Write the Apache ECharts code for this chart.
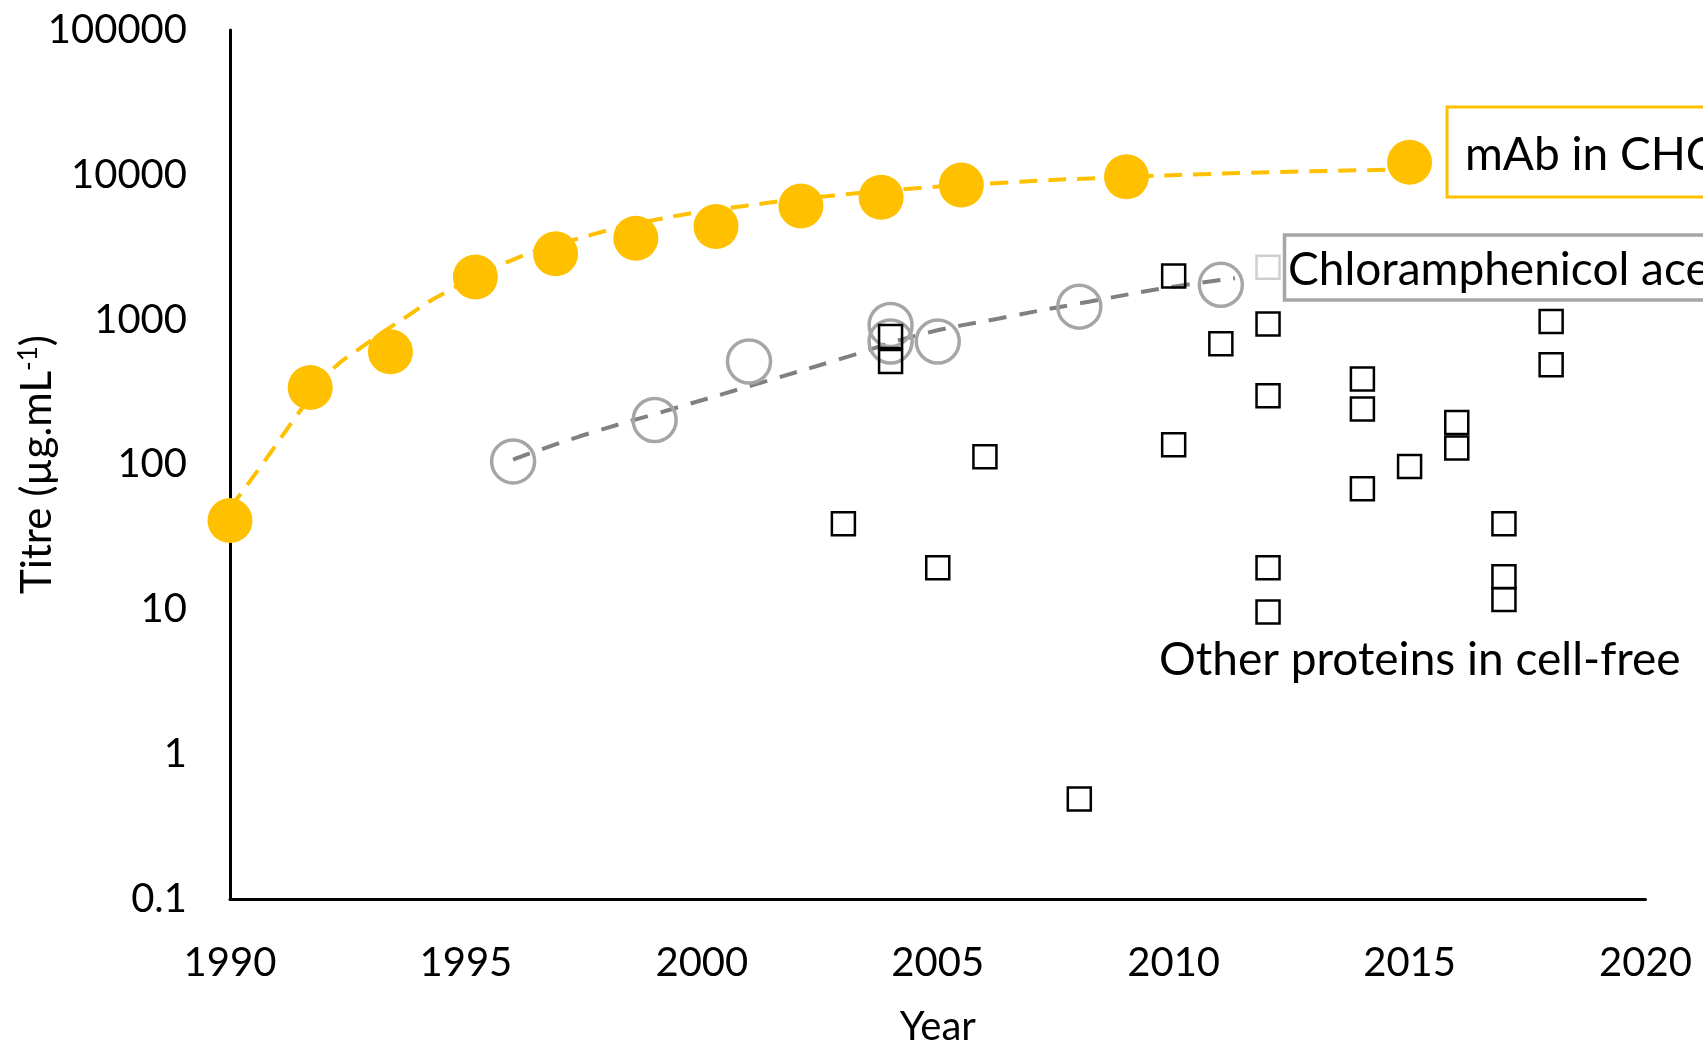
<!DOCTYPE html>
<html>
<head>
<meta charset="utf-8">
<script src="https://cdn.jsdelivr.net/npm/echarts@6/dist/echarts.min.js"></script>
<style>
html,body{margin:0;padding:0;background:#fff;}
#chart{width:1703px;height:1051px;}
</style>
</head>
<body>
<div id="chart"></div>
<script>
// ---- data ----
const yTickLabels = ['0.1', '1', '10', '100', '1000', '10000', '100000'];
const xTickLabels = ['1990', '1995', '2000', '2005', '2010', '2015', '2020'];

// mAb in CHO (filled gold circles)
const mabYears = [1990, 1991.7, 1993.4, 1995.2, 1996.9, 1998.6, 2000.3, 2002.1, 2003.8, 2005.5, 2009, 2015];
const mabTitre = [41, 340, 600, 1970, 2850, 3650, 4400, 6100, 7000, 8500, 9700, 12200];
// gold dashed trend line
const mabTrendYears = [1990, 1990.7, 1991.5, 1992.1, 1992.8, 1993.8, 1994.4, 1995.9, 1997.4, 1999.1, 2000.9, 2002.8, 2004.6, 2006.6, 2008.4, 2011.5, 2015];
const mabTrendTitre = [50, 102, 238, 430, 650, 1080, 1440, 2520, 3650, 4950, 6100, 7200, 8100, 8900, 9500, 10300, 10900];

// Chloramphenicol acetyltransferase (open grey circles)
const catYears = [1996, 1999, 2001, 2004, 2004, 2005, 2008, 2011];
const catTitre = [105, 203, 514, 920, 706, 706, 1230, 1740];
// grey dashed trend line
const catTrendYears = [1996, 1997.4, 1999.3, 2001.1, 2003.1, 2004.6, 2006.3, 2008.2, 2010, 2011.3];
const catTrendTitre = [108, 156, 238, 355, 556, 785, 1020, 1330, 1690, 1930];

// Other proteins in cell-free (open black squares)
const otherYears = [2003, 2004, 2004, 2005, 2006, 2008, 2010, 2010, 2011, 2012, 2012, 2012, 2012, 2014, 2014, 2014, 2015, 2016, 2016, 2017, 2017, 2017, 2018, 2018];
const otherTitre = [39, 764, 514, 19.4, 113, 0.49, 2000, 137, 681, 935, 298, 19.4, 9.6, 390, 242, 68, 97, 195, 130, 39, 16.8, 11.7, 970, 488];
// faded square next to the label box
const otherFadedYears = [2012];
const otherFadedTitre = [2305];

const zip = (xs, ys) => xs.map((x, i) => [x, ys[i]]);

const FONT = 'Lato, "Open Sans", sans-serif';

const chart = echarts.init(document.getElementById('chart'), null, {renderer: 'canvas'});
chart.setOption({
  backgroundColor: '#ffffff',
  animation: false,
  grid: {left: 230, right: 57.5, top: 30, bottom: 152, containLabel: false, outerBoundsMode: 'none'},
  xAxis: {
    type: 'value', min: 1990, max: 2020, interval: 5,
    name: 'Year', nameLocation: 'middle', nameGap: 108, nameMoveOverlap: false,
    nameTextStyle: {fontFamily: FONT, fontSize: 40, color: '#000'},
    axisLine: {show: true, onZero: false, lineStyle: {color: '#000', width: 3}},
    axisTick: {show: false},
    splitLine: {show: false},
    axisLabel: {
      fontFamily: FONT, fontSize: 40, color: '#000', margin: 44,
      formatter: v => xTickLabels[Math.round((v - 1990) / 5)]
    }
  },
  yAxis: {
    type: 'log', logBase: 10, min: 0.1, max: 100000,
    name: '{a|Titre (µg.mL}{s|-1}{a|)}', nameLocation: 'middle', nameGap: 172, nameRotate: 90,
    nameMoveOverlap: false,
    nameTextStyle: {
      fontFamily: FONT, fontSize: 42, color: '#000',
      rich: {
        a: {fontFamily: FONT, fontSize: 42, color: '#000'},
        s: {fontFamily: FONT, fontSize: 26, color: '#000', verticalAlign: 'top'}
      }
    },
    axisLine: {show: true, onZero: false, lineStyle: {color: '#000', width: 3}},
    axisTick: {show: false},
    splitLine: {show: false},
    axisLabel: {
      fontFamily: FONT, fontSize: 40, color: '#000', margin: 43,
      formatter: v => yTickLabels[Math.round(Math.log10(v)) + 1]
    }
  },
  series: [
    {
      name: 'mAb trend', type: 'line', smooth: true, showSymbol: false, z: 2,
      data: zip(mabTrendYears, mabTrendTitre),
      lineStyle: {color: '#FFC000', width: 4, type: [18, 11]}
    },
    {
      name: 'mAb in CHO', type: 'scatter', symbol: 'circle', symbolSize: 45, z: 3,
      data: zip(mabYears, mabTitre),
      itemStyle: {color: '#FFC000', opacity: 1}
    },
    {
      name: 'CAT trend', type: 'line', smooth: true, showSymbol: false, z: 2,
      data: zip(catTrendYears, catTrendTitre),
      lineStyle: {color: '#808080', width: 4, type: [18, 13]}
    },
    {
      name: 'Chloramphenicol acetyltransferase', type: 'scatter', symbol: 'circle', symbolSize: 43, z: 3,
      data: zip(catYears, catTitre),
      itemStyle: {color: 'rgba(255,255,255,0)', borderColor: '#a6a6a6', borderWidth: 3.5, opacity: 1}
    },
    {
      name: 'Other proteins in cell-free', type: 'scatter', symbol: 'rect', symbolSize: 23, z: 4,
      data: zip(otherYears, otherTitre),
      itemStyle: {color: 'rgba(255,255,255,0)', borderColor: '#000', borderWidth: 2.5, opacity: 1}
    },
    {
      name: 'Other (faded)', type: 'scatter', symbol: 'rect', symbolSize: 23, z: 4,
      data: zip(otherFadedYears, otherFadedTitre),
      itemStyle: {color: 'rgba(255,255,255,0)', borderColor: '#cfcfcf', borderWidth: 2.5, opacity: 1}
    }
  ],
  graphic: [
    {
      type: 'rect', z: 10,
      shape: {x: 1447, y: 107, width: 400, height: 90},
      style: {fill: '#fff', stroke: '#FFC000', lineWidth: 3}
    },
    {
      type: 'text', z: 11, x: 1465, y: 155,
      style: {text: 'mAb in CHO cells', font: '46px ' + FONT, fill: '#000', verticalAlign: 'middle', align: 'left'}
    },
    {
      type: 'rect', z: 10,
      shape: {x: 1284.5, y: 235, width: 600, height: 65},
      style: {fill: '#fff', stroke: '#a6a6a6', lineWidth: 3.5}
    },
    {
      type: 'text', z: 11, x: 1288, y: 270,
      style: {text: 'Chloramphenicol acetyltransferase in cell-free', font: '46px ' + FONT, fill: '#000', verticalAlign: 'middle', align: 'left'}
    },
    {
      type: 'text', z: 11, x: 1159, y: 660,
      style: {text: 'Other proteins in cell-free', font: '46px ' + FONT, fill: '#000', verticalAlign: 'middle', align: 'left'}
    }
  ]
});
</script>
</body>
</html>
